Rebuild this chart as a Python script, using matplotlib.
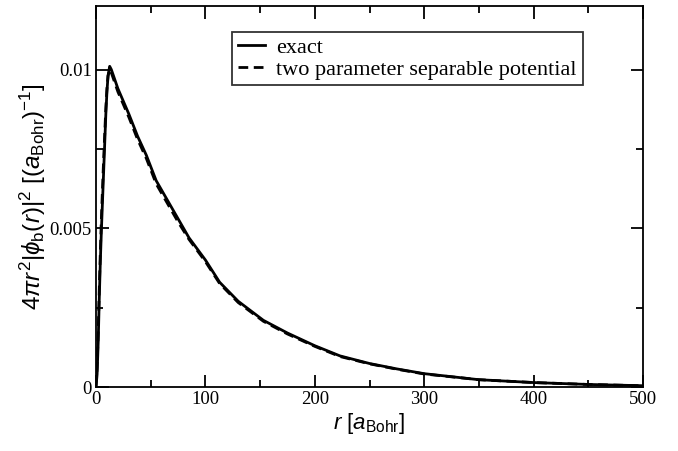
import matplotlib
matplotlib.use("Agg")
import matplotlib.pyplot as plt
from matplotlib.ticker import MultipleLocator, FixedLocator

# ---- data ----
r_vals = [0, 1, 2, 3, 4, 5, 6, 7, 8, 9, 10, 11, 12.5, 14, 16, 20, 25, 30, 38, 46,
          55, 65, 75, 85, 100, 113, 130, 153, 175, 200, 223, 250, 275, 300,
          350, 400, 450, 500]
exact = [0, 0.0004, 0.0014, 0.0028, 0.0040, 0.0050, 0.0059, 0.0068, 0.0077, 0.0086,
         0.0093, 0.0098, 0.0101, 0.0100, 0.0098, 0.0094, 0.0090, 0.0086, 0.0079, 0.0073,
         0.0065, 0.0059, 0.0053, 0.0047, 0.0040, 0.0033, 0.0027, 0.0021, 0.0017, 0.0013,
         0.00098, 0.00074, 0.00057, 0.00042, 0.00023, 0.00014, 0.00008, 0.00004]
separable = [0, 0.0006, 0.0017, 0.0031, 0.0043, 0.0054, 0.0063, 0.0072, 0.0080, 0.0088,
             0.0094, 0.0098, 0.0100, 0.0099, 0.0097, 0.0093, 0.0089, 0.0085, 0.0078, 0.0072,
             0.0064, 0.0058, 0.0052, 0.00465, 0.00395, 0.00326, 0.00266, 0.00207, 0.00167, 0.00128,
             0.00096, 0.00073, 0.00056, 0.00041, 0.00023, 0.00014, 0.00008, 0.00004]
labels = ["exact", "two parameter separable potential"]
yticks = [0, 0.005, 0.01]
ytick_labels = ["0", "0.005", "0.01"]

plt.rcParams['font.family'] = ['Liberation Serif', 'DejaVu Serif']
plt.rcParams['mathtext.fontset'] = 'custom'
plt.rcParams['mathtext.rm'] = 'Liberation Sans'
plt.rcParams['mathtext.it'] = 'Liberation Sans:italic'

fig = plt.figure(figsize=(6.78, 4.51), dpi=100)
ax = fig.add_axes([96/678, 1 - 387/451, (643 - 96)/678, (387 - 6)/451])

ax.plot(r_vals, exact, color='black', lw=2.0, label=labels[0])
ax.plot(r_vals, separable, color='black', lw=2.0, ls=(0, (3.5, 2)), label=labels[1])

ax.set_xlim(0, 500)
ax.set_ylim(0, 0.012)
ax.xaxis.set_major_locator(MultipleLocator(100))
ax.xaxis.set_minor_locator(MultipleLocator(50))
ax.yaxis.set_major_locator(FixedLocator(yticks))
ax.set_yticklabels(ytick_labels)
ax.yaxis.set_minor_locator(MultipleLocator(0.0025))
ax.tick_params(which='both', direction='in', top=True, right=True, labelsize=13.5, width=1.3)
ax.tick_params(which='major', length=9, pad=3)
ax.tick_params(which='minor', length=5)
for s in ax.spines.values():
    s.set_linewidth(1.3)

ax.set_xlabel(r'$r\ [a_{\mathrm{Bohr}}]$', fontsize=16, labelpad=2)
ax.set_ylabel(r'$4\pi r^2|\phi_{\mathrm{b}}(r)|^2\ [(a_{\mathrm{Bohr}})^{-1}]$', fontsize=17.5, labelpad=1)

leg = ax.legend(loc='upper left', bbox_to_anchor=(232/678, 1 - 32/451),
                bbox_transform=fig.transFigure, fontsize=16, handlelength=1.25,
                frameon=True, fancybox=False, borderpad=0.25, labelspacing=0.05,
                handletextpad=0.5, borderaxespad=0)
leg.get_frame().set_edgecolor('black')
leg.get_frame().set_linewidth(1.3)

fig.savefig("out.png", dpi=100)
